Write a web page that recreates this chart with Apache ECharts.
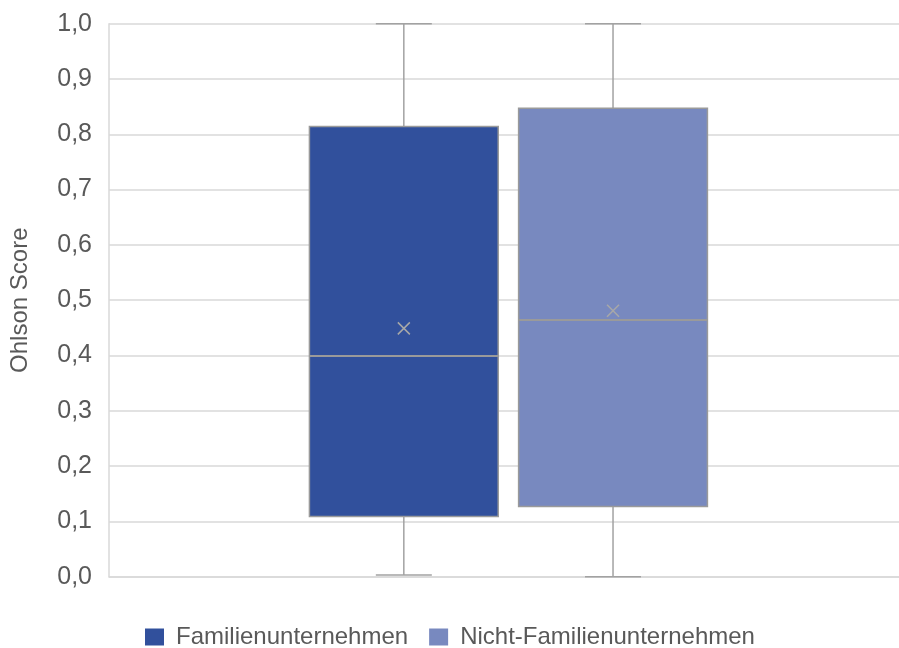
<!DOCTYPE html>
<html><head><meta charset="utf-8">
<script src="https://cdn.jsdelivr.net/npm/echarts@6/dist/echarts.min.js"></script>
<style>html,body{margin:0;padding:0;background:#fff}#c{width:899px;height:648px}</style>
</head><body><div id="c"></div>
<script>
const categories = ['Ohlson Score'];
const seriesNames = ['Familienunternehmen', 'Nicht-Familienunternehmen'];
// [min, Q1, median, Q3, max]
const boxFamilien = [0.003, 0.109, 0.399, 0.814, 1.0];
const boxNicht = [0.0, 0.127, 0.464, 0.847, 1.0];
const meanFamilien = 0.449;
const meanNicht = 0.481;
const yTicks = ['0,0','0,1','0,2','0,3','0,4','0,5','0,6','0,7','0,8','0,9','1,0'];

const colors = ['#31509c', '#7889bf'];
const grey = '#a2a2a2';
const offsets = [-0.1268, 0.138];
const boxFrac = 0.239;

function makeRender(idx, mean) {
  return function (params, api) {
    const c = api.coord([0, 0]);
    const band = api.size([1, 0])[0];
    const cx = c[0] + offsets[idx] * band;
    const w = boxFrac * band;
    const yMin = api.coord([0, api.value(1)])[1];
    const yQ1 = api.coord([0, api.value(2)])[1];
    const yMed = api.coord([0, api.value(3)])[1];
    const yQ3 = api.coord([0, api.value(4)])[1];
    const yMax = api.coord([0, api.value(5)])[1];
    const yMean = api.coord([0, mean])[1];
    const cap = 28, xs = 6;
    const ls = { stroke: grey, lineWidth: 1.5 };
    return {
      type: 'group',
      children: [
        { type: 'line', shape: { x1: cx, y1: yMax, x2: cx, y2: yQ3 }, style: ls },
        { type: 'line', shape: { x1: cx, y1: yQ1, x2: cx, y2: yMin }, style: ls },
        { type: 'line', shape: { x1: cx - cap, y1: yMax, x2: cx + cap, y2: yMax }, style: ls },
        { type: 'line', shape: { x1: cx - cap, y1: yMin, x2: cx + cap, y2: yMin }, style: ls },
        { type: 'rect', shape: { x: cx - w / 2, y: yQ3, width: w, height: yQ1 - yQ3 },
          style: { fill: colors[idx], stroke: '#9a9a9a', lineWidth: 1.5 } },
        { type: 'line', shape: { x1: cx - w / 2, y1: yMed, x2: cx + w / 2, y2: yMed }, style: { stroke: '#9a9a9a', lineWidth: 2 } },
        { type: 'line', shape: { x1: cx - xs, y1: yMean - xs, x2: cx + xs, y2: yMean + xs }, style: { stroke: '#a8a8a8', lineWidth: 1.5 } },
        { type: 'line', shape: { x1: cx - xs, y1: yMean + xs, x2: cx + xs, y2: yMean - xs }, style: { stroke: '#a8a8a8', lineWidth: 1.5 } }
      ]
    };
  };
}

const chart = echarts.init(document.getElementById('c'));
chart.setOption({
  animation: false,
  color: colors,
  textStyle: { fontFamily: 'Liberation Sans, Arial, sans-serif' },
  grid: { left: 109, right: 0, top: 23.7, bottom: 71.3, containLabel: false },
  legend: {
    top: 620, left: 140, itemWidth: 19, itemHeight: 17, itemGap: 21,
    icon: 'rect',
    textStyle: { fontSize: 24, color: '#595959', padding: [0, 0, 0, 7],
      fontFamily: 'Liberation Sans, Arial, sans-serif' },
    data: seriesNames
  },
  xAxis: {
    type: 'category', data: categories,
    axisLine: { show: true, lineStyle: { color: '#d9d9d9', width: 1.5 } },
    axisTick: { show: false }, axisLabel: { show: false }, splitLine: { show: false }
  },
  yAxis: {
    type: 'value', min: 0, max: 1, interval: 0.1,
    name: 'Ohlson Score', nameLocation: 'middle', nameGap: 77, nameRotate: 90,
    nameTextStyle: { fontSize: 24, color: '#595959' },
    axisLine: { show: true, lineStyle: { color: '#d9d9d9', width: 1.5 } },
    axisTick: { show: false },
    axisLabel: { fontSize: 25, color: '#595959', margin: 17,
      formatter: function (v) { return yTicks[Math.round(v * 10)]; } },
    splitLine: { lineStyle: { color: '#d9d9d9', width: 1.5 } }
  },
  series: [
    { name: seriesNames[0], type: 'custom', itemStyle: { color: colors[0] },
      renderItem: makeRender(0, meanFamilien),
      encode: { x: 0, y: [1, 2, 3, 4, 5] },
      data: [[0].concat(boxFamilien)] },
    { name: seriesNames[1], type: 'custom', itemStyle: { color: colors[1] },
      renderItem: makeRender(1, meanNicht),
      encode: { x: 0, y: [1, 2, 3, 4, 5] },
      data: [[0].concat(boxNicht)] }
  ]
});
</script></body></html>
